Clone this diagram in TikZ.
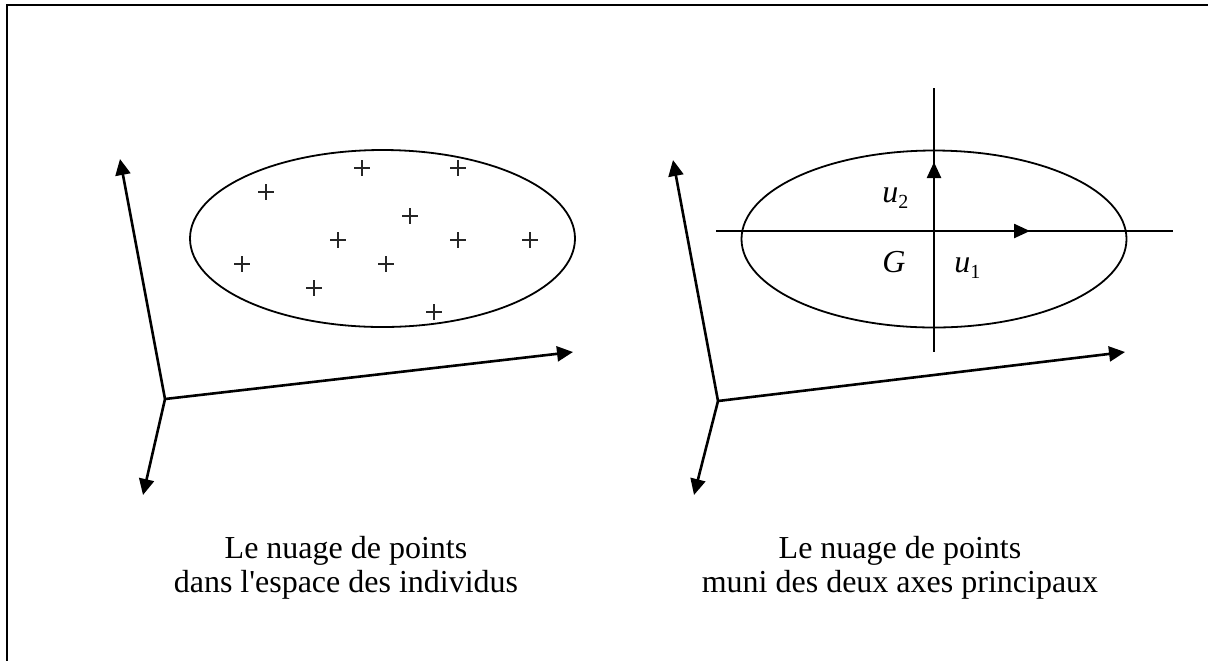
\documentclass[tikz,border=0pt]{standalone}
\usepackage{fontspec}
\setmainfont{Liberation Serif}
\usetikzlibrary{arrows.meta}
\tikzset{
  frameline/.style={line width=1pt},
  axis/.style={line width=1.3pt,-{Triangle[length=8pt,width=7.5pt]}},
  cloud/.style={line width=0.9pt},
  paxis/.style={line width=0.8pt},
  vecarrow/.style={line width=1.2pt,-{Triangle[length=8pt,width=7pt]}},
  plusmark/.style={line width=0.6pt,black!85},
  caption/.style={font=\fontsize{16}{17}\selectfont,align=center,anchor=base,inner sep=0pt},
  lab/.style={anchor=base west,inner sep=0pt,font=\fontsize{16}{17}\selectfont}
}
\begin{document}
\begin{tikzpicture}[x=0.5pt,y=-0.5pt]
\useasboundingbox (0,0) rectangle (1208,660);
% frame
\draw[frameline] (1215,5) -- (7,5) -- (7,670);

% ---------- left diagram ----------
\coordinate (O1) at (165,399);
\coordinate (A1) at (120,159);
\coordinate (B1) at (143,495);
\coordinate (C1) at (573,352);
\draw[axis] (O1) -- (A1);
\draw[axis] (O1) -- (B1);
\draw[axis] (O1) -- (C1);
\draw[cloud] (382.5,238.5) ellipse [x radius=192.5, y radius=88.5];
\foreach \px/\py in {362/168,458/168,266/192,410/216,338/240,458/240,530/240,242/264,386/264,314/288,434/312}{
  \draw[plusmark] (\px-8,\py) -- (\px+8,\py) (\px,\py-8) -- (\px,\py+8);
}
\node[caption] (cap1) at (346,592) {Le nuage de points\\[0pt]dans l\textquotesingle espace des individus};

% ---------- right diagram ----------
\coordinate (O2) at (718,401);
\coordinate (A2) at (673,160);
\coordinate (B2) at (694,495);
\coordinate (C2) at (1125,352);
\draw[axis] (O2) -- (A2);
\draw[axis] (O2) -- (B2);
\draw[axis] (O2) -- (C2);
\draw[cloud] (934,239) ellipse [x radius=192.5, y radius=88.5];
\coordinate (H0) at (716,231);
\coordinate (H1) at (1173,231);
\coordinate (V0) at (934,88);
\coordinate (V1) at (934,352);
\coordinate (G) at (934,231);
\coordinate (U1) at (1030,231);
\coordinate (U2) at (934,162);
\draw[paxis] (H0) -- (H1);
\draw[paxis] (V0) -- (V1);
\draw[vecarrow] (G) -- (U1);
\draw[vecarrow] (G) -- (U2);
\node[lab] (lu2) at (882,202) {\textit{u}\raisebox{-0.2em}{\fontsize{10}{11}\selectfont 2}};
\node[lab] (lG) at (882,272) {\textit{G}};
\node[lab] (lu1) at (954,272) {\textit{u}\raisebox{-0.2em}{\fontsize{10}{11}\selectfont 1}};
\node[caption] (cap2) at (900,592) {Le nuage de points\\[0pt]muni des deux axes principaux};
\end{tikzpicture}
\end{document}
